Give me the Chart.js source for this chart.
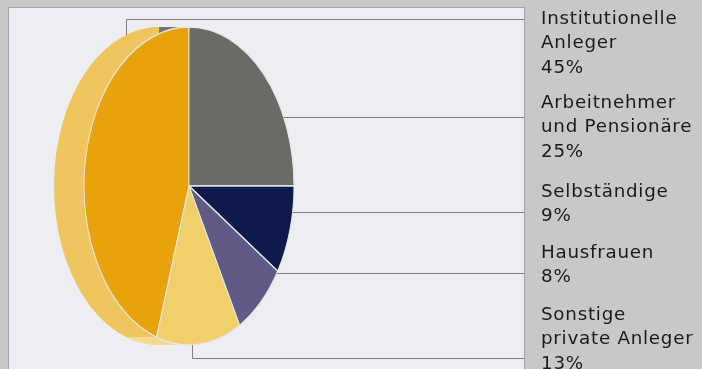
<!DOCTYPE html>
<html>
<head>
<meta charset="utf-8">
<script src="https://cdn.jsdelivr.net/npm/chart.js@4.4.1/dist/chart.umd.min.js"></script>
<style>
  html, body { margin: 0; padding: 0; }
  body {
    width: 702px; height: 369px; overflow: hidden; position: relative;
    background: #c7c8ca;
    font-family: 'DejaVu Sans', sans-serif;
  }
  #panel {
    position: absolute; left: 8px; top: 7px; width: 517px; height: 380px;
    background: #eceef1; border: 1px solid #a2a4a6; box-sizing: border-box;
  }
  #pie { position: absolute; left: 0; top: 0; }
  .group {
    position: absolute; left: 541px;
    font-size: 18.3px; line-height: 24.5px; letter-spacing: 0.75px;
    color: #1a1a1a; white-space: nowrap;
  }
</style>
</head>
<body>
<div id="panel"></div>
<canvas id="pie" width="702" height="369"></canvas>
<div id="labels"></div>
<script>
// Aktionärsstruktur
const categories = [
  ['Institutionelle', 'Anleger'],
  ['Arbeitnehmer', 'und Pensionäre'],
  ['Selbständige'],
  ['Hausfrauen'],
  ['Sonstige', 'private Anleger']
];
const shares = [45, 25, 9, 8, 13];

// Farben: Vorderseite und Seitenwand
const faceColors = ['#e8a20c', '#6b6b66', '#0e1a4c', '#5f5a86', '#f1cf6a'];
const sideColors = ['#efc65e', '#77776f', '#2a3462', '#77739a', '#f3dc8e'];

// Layout
const squash = 105 / 159;   // horizontal stauchen -> Ellipse
const depth = 30;           // Tiefe der Scheibe nach links
const sideOrder = [4, 0, 1, 2, 3]; // Reihenfolge der Seitenwände
const panelRight = 524;
const leaderY = [19, 117, 212, 273, 358];
const groupTop = [5.5, 89.5, 178.5, 239.5, 301.5];

// Textblöcke rechts
const labelBox = document.getElementById('labels');
categories.forEach((lines, i) => {
  const div = document.createElement('div');
  div.className = 'group';
  div.style.top = groupTop[i] + 'px';
  div.innerHTML = lines.concat(shares[i] + '%').join('<br>');
  labelBox.appendChild(div);
});

function squeeze(ctx, cx, dx) {
  ctx.translate(cx + dx, 0);
  ctx.scale(squash, 1);
  ctx.translate(-cx, 0);
}

const tiltPlugin = {
  id: 'tilt',
  beforeDatasetsDraw(chart) {
    const ctx = chart.ctx;
    const arcs = chart.getDatasetMeta(0).data;
    const cx = arcs[0].x;
    // Seitenwand: je Segment versetzte Kopien, von hinten nach vorn
    sideOrder.forEach((i) => {
      const p = arcs[i].getProps(['x', 'y', 'startAngle', 'endAngle', 'outerRadius']);
      ctx.fillStyle = sideColors[i];
      for (let d = depth; d >= 1; d--) {
        ctx.save();
        squeeze(ctx, cx, -d);
        ctx.beginPath();
        ctx.moveTo(p.x, p.y);
        ctx.arc(p.x, p.y, p.outerRadius, p.startAngle, p.endAngle);
        ctx.closePath();
        ctx.fill();
        ctx.restore();
      }
    });
    ctx.save();
    squeeze(ctx, cx, 0);
  },
  afterDatasetsDraw(chart) {
    chart.ctx.restore();
  },
  afterDraw(chart) {
    const ctx = chart.ctx;
    const arc = chart.getDatasetMeta(0).data[0];
    const cx = arc.x, cy = arc.y, R = arc.outerRadius;
    const rx = R * squash;
    const edge = (y) => rx * Math.sqrt(Math.max(0, 1 - Math.pow((y - cy) / R, 2)));
    ctx.save();
    ctx.strokeStyle = '#7e8083';
    ctx.lineWidth = 1;
    leaderY.forEach((ly, i) => {
      const y = Math.round(ly) + 0.5;
      ctx.beginPath();
      if (i === 0) {
        const hy = 35;
        const hx = Math.round(cx - depth - edge(hy)) + 0.5;
        ctx.moveTo(hx, hy);
        ctx.lineTo(hx, y);
      } else if (i === categories.length - 1) {
        const hx = Math.round(cx + 3) + 0.5;
        ctx.moveTo(hx, cy + R);
        ctx.lineTo(hx, y);
      } else {
        ctx.moveTo(cx + edge(ly), y);
      }
      ctx.lineTo(panelRight, y);
      ctx.stroke();
    });
    ctx.restore();
  }
};

new Chart(document.getElementById('pie'), {
  type: 'pie',
  data: {
    labels: categories.map(c => c.join(' ')),
    datasets: [{
      data: shares,
      backgroundColor: faceColors,
      borderColor: '#e4e6e8',
      borderWidth: 1.5
    }]
  },
  options: {
    responsive: false,
    animation: false,
    devicePixelRatio: 1,
    rotation: 360 - shares[0] * 3.6,
    radius: 159,
    layout: { padding: { left: 30, right: 354, top: 27, bottom: 24 } },
    plugins: {
      legend: { display: false },
      tooltip: { enabled: false }
    }
  },
  plugins: [tiltPlugin]
});
</script>
</body>
</html>
